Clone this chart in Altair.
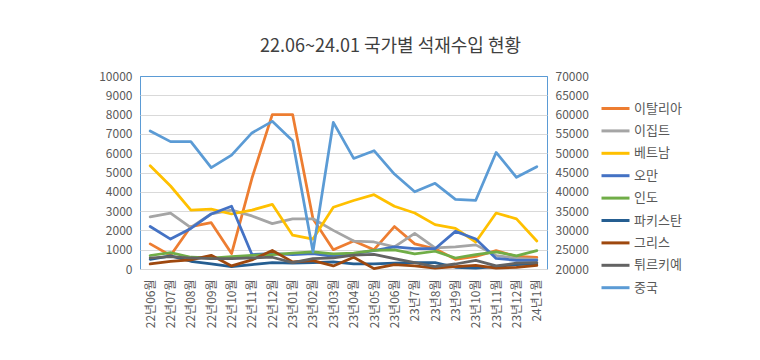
import altair as alt
import pandas as pd

months = ["22년06월", "22년07월", "22년08월", "22년09월", "22년10월", "22년11월", "22년12월",
          "23년01월", "23년02월", "23년03월", "23년04월", "23년05월", "23년06월", "23년7월",
          "23년8월", "23년9월", "23년10월", "23년11월", "23년12월", "24년1월"]

italy = [1300, 700, 2200, 2400, 800, 4700, 8000, 8000, 2600, 1000, 1450, 1000, 2200, 1300, 1050, 500, 650, 950, 650, 600]
egypt = [2700, 2900, 2150, 2850, 3050, 2750, 2350, 2600, 2600, 2000, 1450, 1400, 1150, 1850, 1100, 1150, 1250, 700, 550, 500]
vietnam = [5350, 4300, 3050, 3100, 2850, 3050, 3350, 1750, 1550, 3200, 3550, 3850, 3250, 2900, 2300, 2100, 1400, 2900, 2600, 1450]
oman = [2200, 1550, 2100, 2850, 3250, 750, 800, 750, 800, 650, 800, 950, 1150, 1050, 1050, 1950, 1550, 550, 450, 450]
india = [700, 850, 610, 570, 640, 710, 750, 820, 890, 780, 820, 960, 990, 780, 920, 570, 750, 890, 680, 950]
pakistan = [500, 680, 400, 260, 120, 230, 330, 300, 330, 370, 260, 260, 300, 330, 330, 90, 50, 120, 230, 260]
greece = [260, 400, 470, 710, 160, 470, 960, 370, 430, 160, 610, 20, 230, 160, 50, 120, 190, 50, 90, 190]
turkey = [570, 640, 570, 540, 540, 570, 610, 330, 540, 570, 720, 760, 540, 330, 120, 260, 450, 160, 300, 330]
china = [55750, 53000, 53000, 46250, 49500, 55250, 58250, 53250, 24450, 58000, 48650, 50650, 44600, 40000,
         42200, 38050, 37800, 50200, 43750, 46500]

countries = ["이탈리아", "이집트", "베트남", "오만", "인도", "파키스탄", "그리스", "튀르키예", "중국"]
colors = ["#ED7D31", "#A5A5A5", "#FFC000", "#4472C4", "#70AD47", "#255E91", "#9E480E", "#636363", "#5B9BD5"]

rows = []
for name, vals in zip(countries[:8], [italy, egypt, vietnam, oman, india, pakistan, greece, turkey]):
    for m, v in zip(months, vals):
        rows.append({"month": m, "country": name, "value": v})
primary = pd.DataFrame(rows)
china_df = pd.DataFrame({"month": months, "country": "중국", "value": china})

FONT = "Noto Sans CJK KR"
TXT = "#595959"

x = alt.X("month:N", sort=months,
          scale=alt.Scale(type="point", padding=0.5),
          axis=alt.Axis(title=None, labelAngle=270, labelPadding=10, labelFontSize=12,
                        labelColor=TXT, labelFont=FONT, ticks=False, domainColor="#D9D9D9",
                        grid=False))

color = alt.Color("country:N",
                  scale=alt.Scale(domain=countries, range=colors),
                  legend=alt.Legend(title=None, orient="none", legendX=467, legendY=24,
                                    padding=0, symbolType="M-2,0H2", symbolSize=196,
                                    symbolStrokeWidth=3, labelFontSize=13, labelColor=TXT,
                                    labelFont=FONT, rowPadding=6.4, labelOffset=10))

line_kw = dict(strokeWidth=2.75, strokeJoin="round", strokeCap="round")

left = alt.Chart(primary).mark_line(**line_kw).encode(
    x=x,
    y=alt.Y("value:Q", scale=alt.Scale(domain=[0, 10000], nice=False),
            axis=alt.Axis(title=None, values=list(range(0, 10001, 1000)), format="d",
                          labelFontSize=12, labelColor=TXT, labelFont=FONT, ticks=False,
                          domain=False, labelPadding=8,
                          gridColor={"condition": {"test": "datum.value == 10000", "value": "#5B9BD5"},
                                     "value": "#D9D9D9"})),
    color=color,
)

right = alt.Chart(china_df).mark_line(**line_kw).encode(
    x=x,
    y=alt.Y("value:Q", scale=alt.Scale(domain=[20000, 70000], nice=False),
            axis=alt.Axis(title=None, orient="right", values=list(range(20000, 70001, 5000)),
                          format="d", labelFontSize=12, labelColor=TXT, labelFont=FONT,
                          ticks=False, domain=False, grid=False, labelPadding=8)),
    color=color,
)

chart = alt.layer(left, right).resolve_scale(y="independent").properties(
    width=407, height=193,
    title=alt.TitleParams("22.06~24.01 국가별 석재수입 현황", fontSize=18, font=FONT,
                          color="#404040", fontWeight="normal", anchor="middle", offset=14,
                          dx=47),
    padding={"left": 132, "top": 68, "right": 205, "bottom": 83},
    autosize="none",
).configure_view(stroke="#5B9BD5", strokeWidth=1)

chart.save("out.html", embed_options={"renderer": "svg", "actions": False})
